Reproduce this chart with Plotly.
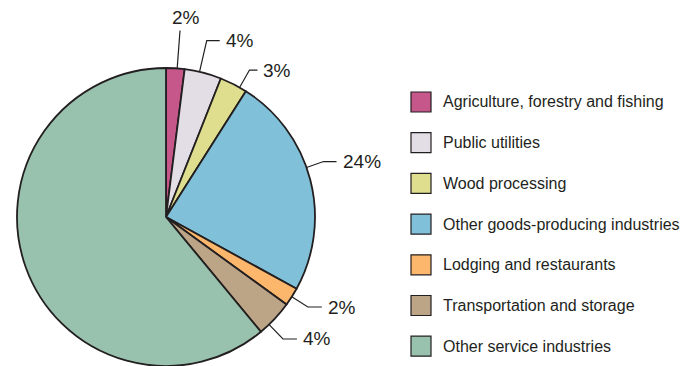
import math
import plotly.graph_objects as go

# ---- data ----
categories = [
    "Agriculture, forestry and fishing",
    "Public utilities",
    "Wood processing",
    "Other goods-producing industries",
    "Lodging and restaurants",
    "Transportation and storage",
    "Other service industries",
]
values = [2, 4, 3, 24, 2, 4, 61]
pct_labels = ["2%", "4%", "3%", "24%", "2%", "4%", None]

# ---- style ----
colors = ["#C6578A", "#E3DDE6", "#DEDE8E", "#80C0D9", "#FDB76C", "#BCA487", "#98C2AE"]
ink = "#231F20"
W, H = 697, 366
CX, CY, R = 166, 217, 149
leader_ext = [38, 32, 20, 18, 19, 20, None]
leader_hor = [0, 13, 8, 13, 14, 14, None]
leader_rot = [0.7, -1.4, 2.6, -5.0, 0, 3.0, None]  # degrees, label nudges
font_family = "Liberation Sans, Arial, Helvetica, sans-serif"

def px(x):
    return x / W

def py(y):
    return 1 - y / H

fig = go.Figure()
fig.add_trace(go.Pie(
    labels=categories,
    values=values,
    sort=False,
    direction="clockwise",
    rotation=0,
    textinfo="none",
    hoverinfo="label+percent",
    marker=dict(colors=colors, line=dict(color=ink, width=1.8)),
    domain=dict(x=[px(CX - R), px(CX + R)], y=[py(CY + R), py(CY - R)]),
    showlegend=False,
))

shapes = []
annotations = []
total = sum(values)
cum = 0
for i, v in enumerate(values):
    mid = (cum + v / 2) / total * 2 * math.pi
    cum += v
    lab = pct_labels[i]
    if lab is None:
        continue
    a = mid + math.radians(leader_rot[i])
    sx, sy = CX + R * math.sin(a), CY - R * math.cos(a)
    rr = R + leader_ext[i]
    ex, ey = CX + rr * math.sin(a), CY - rr * math.cos(a)
    hx = ex + leader_hor[i]
    path = f"M {px(sx)},{py(sy)} L {px(ex)},{py(ey)} L {px(hx)},{py(ey)}"
    shapes.append(dict(type="path", xref="paper", yref="paper", path=path,
                       line=dict(color=ink, width=1.2)))
    if leader_hor[i] == 0:
        annotations.append(dict(x=px(ex + 6), y=py(ey - 1), xref="paper", yref="paper",
                                text=lab, showarrow=False, xanchor="center", yanchor="bottom",
                                font=dict(size=19, color=ink, family=font_family)))
    else:
        annotations.append(dict(x=px(hx + 4), y=py(ey), xref="paper", yref="paper",
                                text=lab, showarrow=False, xanchor="left", yanchor="middle",
                                font=dict(size=19, color=ink, family=font_family)))

# custom legend
LX, LY0, LDY, SQ = 411, 102, 40.7, 20
for i, c in enumerate(categories):
    cy = LY0 + i * LDY
    shapes.append(dict(type="rect", xref="paper", yref="paper",
                       x0=px(LX), x1=px(LX + SQ), y0=py(cy + SQ / 2), y1=py(cy - SQ / 2),
                       fillcolor=colors[i], line=dict(color=ink, width=1.2)))
    annotations.append(dict(x=px(LX + 30), y=py(cy), xref="paper", yref="paper",
                            text=c, showarrow=False, xanchor="left", yanchor="middle",
                            font=dict(size=16, color=ink, family=font_family)))

fig.update_layout(
    width=W, height=H,
    margin=dict(l=0, r=0, t=0, b=0),
    paper_bgcolor="white",
    plot_bgcolor="white",
    shapes=shapes,
    annotations=annotations,
)

fig.write_html("out.html", config={"displayModeBar": False},
               post_script="document.body.style.margin='0px';document.body.style.overflow='hidden';")
